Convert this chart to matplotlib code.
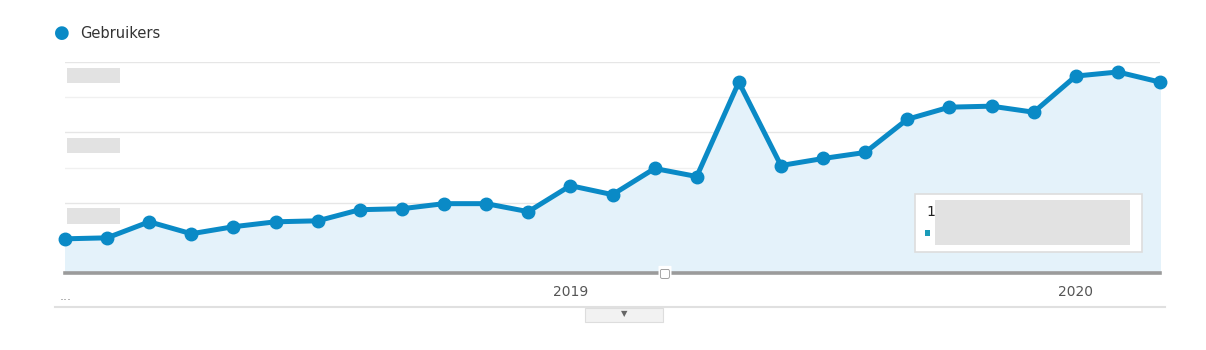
"""Gebruikers per month (Google Analytics style overview), Jan 2018 - Mar 2020."""
import matplotlib
matplotlib.use("Agg")
import matplotlib.pyplot as plt
from matplotlib.patches import Rectangle, FancyBboxPatch

months = ["2018-01", "2018-02", "2018-03", "2018-04", "2018-05", "2018-06",
          "2018-07", "2018-08", "2018-09", "2018-10", "2018-11", "2018-12",
          "2019-01", "2019-02", "2019-03", "2019-04", "2019-05", "2019-06",
          "2019-07", "2019-08", "2019-09", "2019-10", "2019-11", "2019-12",
          "2020-01", "2020-02", "2020-03"]
gebruikers = [243, 250, 364, 279, 329, 364, 371, 450, 457, 493, 493, 436,
              621, 557, 743, 686, 1357, 764, 814, 857, 1093, 1179, 1186, 1143,
              1400, 1429, 1357]
year_ticks = ["2019", "2020"]

BLUE = "#0a8ac6"
FILL = "#e4f2fa"

W, H = 1206, 350
fig = plt.figure(figsize=(W / 100, H / 100), dpi=100)
fig.patch.set_facecolor("white")

x0, x1, ytop, ybot = 65, 1160, 62, 273
ax = fig.add_axes([x0 / W, 1 - ybot / H, (x1 - x0) / W, (ybot - ytop) / H])

xs = list(range(len(months)))
ax.fill_between(xs, gebruikers, 0, color=FILL, zorder=1)
ax.plot(xs, gebruikers, color=BLUE, lw=3.6, marker="o", ms=9,
        solid_joinstyle="round", zorder=3, clip_on=False)

ax.set_xlim(0, len(months) - 1)
ax.set_ylim(0, 1500)
for v in range(250, 1501, 250):
    ax.axhline(v, color="#e6e6e6" if v % 500 == 0 else "#f0f0f0", lw=1, zorder=0)
for s in ["top", "right", "left"]:
    ax.spines[s].set_visible(False)
ax.spines["bottom"].set_color("#9b9b9b")
ax.spines["bottom"].set_linewidth(2.6)
ax.spines["bottom"].set_zorder(4)
ax.set_yticks([])

jan_idx = [months.index(y + "-01") for y in year_ticks]
ax.set_xticks(jan_idx)
ax.set_xticklabels(year_ticks, fontsize=10, color="#555555")
ax.tick_params(axis="x", length=0, pad=9)

# blurred y-axis labels
for v in (500, 1000, 1500):
    ax.add_patch(Rectangle((0.002, v - 150), 0.048, 110, transform=ax.get_yaxis_transform(),
                           facecolor="#e2e2e2", edgecolor="none", zorder=2))

# blurred tooltip
tip = FancyBboxPatch((915 / W, 1 - 252 / H), 227 / W, 58 / H, transform=fig.transFigure,
                     boxstyle="square,pad=0", facecolor="white", edgecolor="#dddddd",
                     lw=1.2, zorder=5)
fig.patches.append(tip)
fig.patches.append(Rectangle((935 / W, 1 - 245 / H), 195 / W, 45 / H,
                             transform=fig.transFigure, facecolor="#d9d9d9",
                             edgecolor="none", alpha=0.75, zorder=6))
fig.patches.append(Rectangle((925 / W, 1 - 236 / H), 5 / W, 6 / H,
                             transform=fig.transFigure, facecolor="#1a9bb8",
                             edgecolor="none", zorder=6))
fig.text(926 / W, 1 - 212 / H, "1", fontsize=10, color="#222222", va="center", zorder=7)

# legend
fig.text(62 / W, 1 - 33 / H, "\u25CF", fontsize=13, color=BLUE, va="center", ha="center")
fig.text(80 / W, 1 - 33 / H, "Gebruikers", fontsize=10.5, color="#333333", va="center")

# bottom strip
fig.text(60 / W, 1 - 297 / H, "...", fontsize=9, color="#888888", va="center")
fig.add_artist(plt.Line2D([55 / W, 1165 / W], [1 - 307 / H] * 2, color="#e0e0e0", lw=1.5))
fig.patches.append(Rectangle((585 / W, 1 - 322 / H), 78 / W, 14 / H, transform=fig.transFigure,
                             facecolor="#f2f2f2", edgecolor="#dddddd", lw=0.8))
fig.text(624 / W, 1 - 314 / H, "\u25BC", fontsize=6, color="#666666", ha="center", va="center")
fig.text(665 / W, 1 - 273 / H, "\u25A2", fontsize=9, color="#888888", ha="center",
         va="center", zorder=5, bbox=dict(boxstyle="round,pad=0.05", fc="white", ec="none"))

fig.savefig("out.png", dpi=100, facecolor="white")
